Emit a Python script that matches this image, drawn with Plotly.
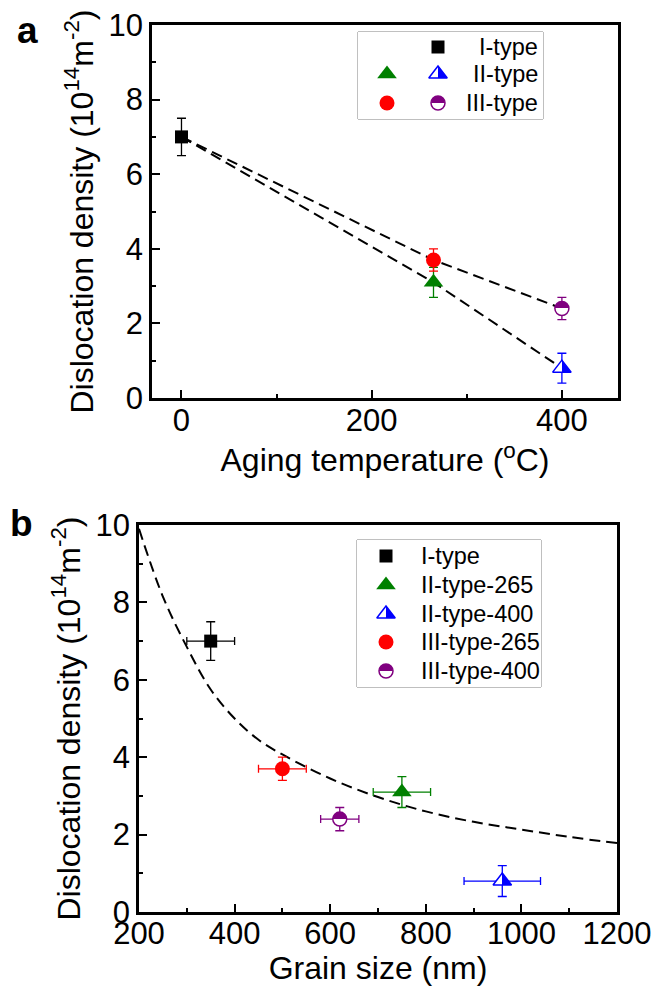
import plotly.graph_objects as go

W, H = 654, 986

# ---------------- data: panel a (aging temperature) ----------------
temp_I = [0]
temp_265 = [265]
temp_400 = [400]
rho_I = [7.0]
err_rho_I = [0.5]
rho_II_265 = [3.1]
err_rho_II_265 = [0.4]
rho_II_400 = [0.8]
err_rho_II_400 = [0.4]
rho_III_265 = [3.7]
err_rho_III_265 = [0.3]
rho_III_400 = [2.4]
err_rho_III_400 = [0.3]

# ---------------- data: panel b (grain size) ----------------
grain_I = [350]
err_grain_I = [50]
grain_II_265 = [750]
err_grain_II_265 = [60]
grain_II_400 = [960]
err_grain_II_400 = [80]
grain_III_265 = [500]
err_grain_III_265 = [50]
grain_III_400 = [620]
err_grain_III_400 = [40]

# dashed fitted curve
fit_grain = [200, 250, 300, 350, 400, 450, 500, 600, 700, 800, 900, 1000, 1100, 1200]
fit_rho = [9.9, 8.15, 6.85, 5.75, 5.0, 4.45, 4.07, 3.45, 2.97, 2.6, 2.33, 2.13, 1.94, 1.78]

names_b = ["I-type", "II-type-265", "II-type-400", "III-type-265", "III-type-400"]
legend_a_labels = ["I-type", "II-type", "III-type"]

# ---------------- styles ----------------
FONT = "Liberation Sans, Arial, sans-serif"
BLUE, GREEN, RED, PURPLE = "#0000FF", "#008000", "#FF0000", "#800080"
DASH = "11px,6px"

sty = {
    "I": dict(marker=dict(symbol="square", size=13, color="black"), ecolor="black"),
    "II265": dict(marker=dict(symbol="triangle-up", size=17, color=GREEN), ecolor=GREEN),
    "II400": dict(marker=dict(symbol="triangle-up", size=16, color="white",
                              gradient=dict(type="horizontal", color=BLUE),
                              line=dict(color=BLUE, width=1.5)), ecolor=BLUE),
    "III265": dict(marker=dict(symbol="circle", size=15, color=RED), ecolor=RED),
    "III400": dict(marker=dict(symbol="circle", size=14, color=PURPLE,
                               gradient=dict(type="vertical", color="white"),
                               line=dict(color=PURPLE, width=1.5)), ecolor=PURPLE),
}


def px_x(p):
    return p / W


def px_y(p):
    return 1 - p / H


fig = go.Figure()

# ---- panel a ----
fig.add_trace(go.Scatter(x=temp_I + temp_265 + temp_400, y=rho_I + rho_II_265 + rho_II_400,
                         mode="lines", line=dict(color="black", width=2, dash=DASH),
                         showlegend=False, hoverinfo="skip", xaxis="x", yaxis="y"))
fig.add_trace(go.Scatter(x=temp_I + temp_265 + temp_400, y=rho_I + rho_III_265 + rho_III_400,
                         mode="lines", line=dict(color="black", width=2, dash=DASH),
                         showlegend=False, hoverinfo="skip", xaxis="x", yaxis="y"))


def point(x, y, ex, ey, key, xa, ya, name=None):
    s = sty[key]
    tr = go.Scatter(x=x, y=y, mode="markers", marker=s["marker"], name=name,
                    showlegend=False, xaxis=xa, yaxis=ya,
                    error_y=dict(type="data", array=ey, visible=True, color=s["ecolor"],
                                 thickness=1.3, width=4.5))
    if ex is not None:
        tr.error_x = dict(type="data", array=ex, visible=True, color=s["ecolor"],
                          thickness=1.3, width=4)
    fig.add_trace(tr)


point(temp_I, rho_I, None, err_rho_I, "I", "x", "y", "I-type")
point(temp_265, rho_II_265, None, err_rho_II_265, "II265", "x", "y", "II-type")
point(temp_265, rho_III_265, None, err_rho_III_265, "III265", "x", "y", "III-type")
point(temp_400, rho_II_400, None, err_rho_II_400, "II400", "x", "y", "II-type")
point(temp_400, rho_III_400, None, err_rho_III_400, "III400", "x", "y", "III-type")

# ---- panel b ----
fig.add_trace(go.Scatter(x=fit_grain, y=fit_rho, mode="lines", line_shape="spline",
                         line=dict(color="black", width=2, dash=DASH),
                         showlegend=False, hoverinfo="skip", xaxis="x2", yaxis="y2"))
point(grain_I, rho_I, err_grain_I, err_rho_I, "I", "x2", "y2", names_b[0])
point(grain_II_265, rho_II_265, err_grain_II_265, err_rho_II_265, "II265", "x2", "y2", names_b[1])
point(grain_II_400, rho_II_400, err_grain_II_400, err_rho_II_400, "II400", "x2", "y2", names_b[2])
point(grain_III_265, rho_III_265, err_grain_III_265, err_rho_III_265, "III265", "x2", "y2", names_b[3])
point(grain_III_400, rho_III_400, err_grain_III_400, err_rho_III_400, "III400", "x2", "y2", names_b[4])

# ---- legends drawn on auxiliary axes measured in pixels ----
LEG_A = dict(left=358, right=543, top=32, bottom=119, xa="x3", ya="y3")
LEG_B = dict(left=357, right=541, top=540, bottom=687, xa="x4", ya="y4")

legend_a_cols = [29, 80]
legend_a_rows = [15, 42, 71]
legend_a_keys = [[None, "I"], ["II265", "II400"], ["III265", "III400"]]

legend_b_col = 29
legend_b_text_x = 62
legend_b_rows = [16, 45, 74, 102, 131]
legend_b_keys = ["I", "II265", "II400", "III265", "III400"]

for r, row in enumerate(legend_a_keys):
    for c, key in enumerate(row):
        if key is None:
            continue
        fig.add_trace(go.Scatter(x=[legend_a_cols[c]], y=[legend_a_rows[r]], mode="markers",
                                 marker=sty[key]["marker"], showlegend=False,
                                 hoverinfo="skip", xaxis="x3", yaxis="y3"))
for r, key in enumerate(legend_b_keys):
    fig.add_trace(go.Scatter(x=[legend_b_col], y=[legend_b_rows[r]], mode="markers",
                             marker=sty[key]["marker"], showlegend=False,
                             hoverinfo="skip", xaxis="x4", yaxis="y4"))

axis_common = dict(showline=True, linewidth=2.5, linecolor="black", mirror=True,
                   ticks="inside", ticklen=8, tickwidth=2, tickcolor="black",
                   showgrid=False, zeroline=False, automargin=False,
                   tickfont=dict(family=FONT, size=31, color="black"),
                   title_font=dict(family=FONT, size=32, color="black"))
minor_x = dict(ticks="inside", ticklen=4, tickwidth=2, dtick=100, tickcolor="black")
minor_y = dict(ticks="inside", ticklen=4, tickwidth=2, dtick=1, tickcolor="black")

ylabel = "Dislocation density (10<sup>14</sup>m<sup>-2</sup>)"


def aux_axes(L):
    xa = dict(domain=[px_x(L["left"]), px_x(L["right"])], range=[0, L["right"] - L["left"]],
              visible=False, anchor=L["ya"], fixedrange=True)
    ya = dict(domain=[px_y(L["bottom"]), px_y(L["top"])], range=[L["bottom"] - L["top"], 0],
              visible=False, anchor=L["xa"], fixedrange=True)
    return xa, ya


x3, y3 = aux_axes(LEG_A)
x4, y4 = aux_axes(LEG_B)

fig.update_layout(
    template="none",
    width=W, height=H, margin=dict(l=0, r=0, t=0, b=0, pad=0, autoexpand=False),
    paper_bgcolor="white", plot_bgcolor="white",
    font=dict(family=FONT, color="black"),
    showlegend=False,
    xaxis=dict(axis_common, domain=[px_x(152), px_x(618)], range=[-31, 459],
               dtick=200, anchor="y", minor=minor_x, ticklabelstandoff=-7,
               title=dict(text="Aging temperature (<sup>o</sup>C)", standoff=11)),
    yaxis=dict(axis_common, domain=[px_y(398), px_y(25)], range=[0, 10], dtick=2, anchor="x",
               minor=minor_y, title=dict(text=ylabel, standoff=6)),
    xaxis2=dict(axis_common, domain=[px_x(139), px_x(617)], range=[200, 1200],
                dtick=200, anchor="y2", minor=minor_x, ticklabelstandoff=-8,
                title=dict(text="Grain size (nm)", standoff=20)),
    yaxis2=dict(axis_common, domain=[px_y(912), px_y(525)], range=[0, 10], dtick=2, anchor="x2",
                minor=minor_y, title=dict(text=ylabel, standoff=6)),
    xaxis3=x3, yaxis3=y3, xaxis4=x4, yaxis4=y4,
    shapes=[dict(type="rect", xref=L["xa"] + " domain", yref=L["ya"] + " domain",
                 x0=0, x1=1, y0=0, y1=1, line=dict(color="#808080", width=1),
                 fillcolor="white", layer="below") for L in (LEG_A, LEG_B)],
)

ann = []
for r, lab in enumerate(legend_a_labels):
    ann.append(dict(x=LEG_A["right"] - LEG_A["left"] - 3, y=legend_a_rows[r], xref="x3", yref="y3",
                    text=lab, showarrow=False, xanchor="right", yanchor="middle",
                    font=dict(family=FONT, size=23.5, color="black")))
for r, lab in enumerate(names_b):
    ann.append(dict(x=legend_b_text_x, y=legend_b_rows[r], xref="x4", yref="y4",
                    text=lab, showarrow=False, xanchor="left", yanchor="middle",
                    font=dict(family=FONT, size=23.5, color="black")))
ann.append(dict(x=px_x(27), y=px_y(30), xref="paper", yref="paper", text="<b>a</b>",
                showarrow=False, xanchor="center", yanchor="middle",
                font=dict(family=FONT, size=37, color="black")))
ann.append(dict(x=px_x(22), y=px_y(523), xref="paper", yref="paper", text="<b>b</b>",
                showarrow=False, xanchor="center", yanchor="middle",
                font=dict(family=FONT, size=37, color="black")))
fig.update_layout(annotations=ann)

post = """
document.body.style.margin='0';
function sharpen(){
  document.querySelectorAll('linearGradient').forEach(function(g){
    var st = Array.prototype.slice.call(g.querySelectorAll('stop'));
    if(st.length !== 2) return;
    st.sort(function(a,b){return parseFloat(a.getAttribute('offset'))-parseFloat(b.getAttribute('offset'));});
    var a = st[0].cloneNode(true), b = st[1].cloneNode(true);
    a.setAttribute('offset','50%'); b.setAttribute('offset','50%');
    st.forEach(function(s){ g.removeChild(s); });
    g.appendChild(st[0]); g.appendChild(a); g.appendChild(b); g.appendChild(st[1]);
  });
}
sharpen();
"""

fig.write_html("out.html", post_script=post, config={"displayModeBar": False})
